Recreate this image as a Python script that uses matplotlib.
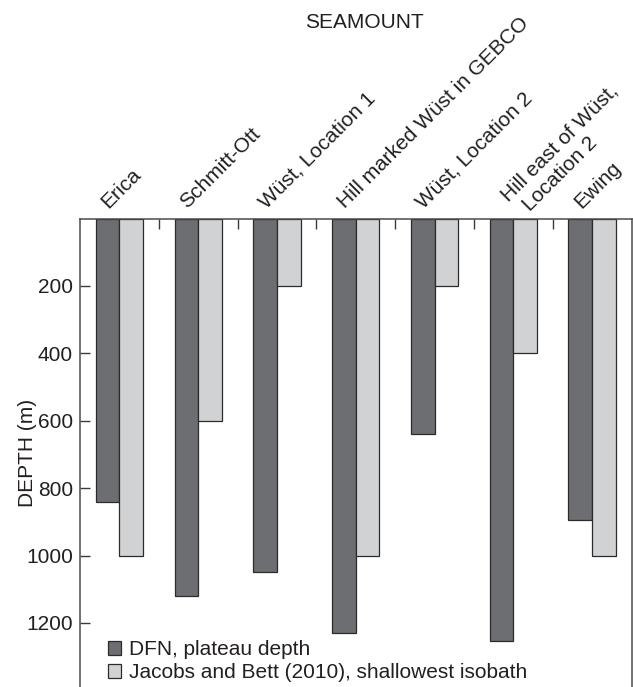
import matplotlib
matplotlib.use('Agg')
import matplotlib.pyplot as plt
from matplotlib.transforms import ScaledTranslation
import numpy as np

# dados
seamounts = ['Erica', 'Schmitt-Ott', 'Wüst, Location 1', 'Hill marked Wüst in GEBCO',
             'Wüst, Location 2', 'Hill east of Wüst,\nLocation 2', 'Ewing']
dfn_depth = [840, 1120, 1050, 1230, 640, 1255, 895]
jacobs_depth = [1000, 600, 200, 1000, 200, 400, 1000]
depth_ticks = [200, 400, 600, 800, 1000, 1200]

plt.rcParams['font.family'] = ['Liberation Sans', 'DejaVu Sans']
plt.rcParams['font.size'] = 15
txt = '#231f20'
dark = '#6d6e72'
light = '#d1d2d4'
edge = '#2b2b2b'

fig = plt.figure(figsize=(6.33, 6.87), dpi=100)
ax = fig.add_axes([80 / 633, 0, 551.5 / 633, 1 - 218.5 / 687])

x = np.arange(len(seamounts)) + 0.5
w = 0.3
ax.bar(x - w / 2, dfn_depth, w, color=dark, edgecolor=edge, linewidth=0.9,
       label='DFN, plateau depth')
ax.bar(x + w / 2, jacobs_depth, w, color=light, edgecolor=edge, linewidth=0.9,
       label='Jacobs and Bett (2010), shallowest isobath')

ax.set_xlim(0, len(seamounts))
ax.set_ylim(1390, 0)

# eixo y
ax.set_yticks(depth_ticks)
ax.tick_params(axis='y', direction='in', length=7.2, width=1, color='#3a3a3a',
               pad=5, labelcolor=txt, labelsize=15, right=False)
ax.set_ylabel('DEPTH (m)', color=txt, fontsize=15)
ax.yaxis.set_label_coords(-0.078, 0.5)

# eixo x: ticks entre os grupos no topo
ax.set_xticks(np.arange(1, len(seamounts)))
ax.set_xticklabels([])
ax.tick_params(axis='x', direction='in', length=7.2, width=1, color='#3a3a3a',
               top=True, bottom=False, labeltop=False, labelbottom=False)

# nomes inclinados; nomes com duas linhas sao escritos linha a linha
for xi, name in zip(x, seamounts):
    lines = name.split('\n')
    if len(lines) == 1:
        starts = [(-11, 9.5)]
    else:
        starts = [(-5.4, 16.5), (16.6, 6.5)]
    for line, (dx, dy) in zip(lines, starts):
        tr = ax.get_xaxis_transform() + ScaledTranslation(dx / 100, dy / 100, fig.dpi_scale_trans)
        ax.text(xi, 1, line, transform=tr, rotation=45, rotation_mode='anchor',
                ha='left', va='baseline', color=txt, fontsize=15)

for side in ['left', 'top', 'right']:
    ax.spines[side].set_color('#4a4a4a')
    ax.spines[side].set_linewidth(1.1)
ax.spines['bottom'].set_visible(False)

fig.text(364 / 633, 1 - 28 / 687, 'SEAMOUNT', ha='center', va='baseline',
         color=txt, fontsize=15)

ax.legend(loc='upper left', bbox_to_anchor=(27.5 / 551.5, 1 - (640 - 218.5) / 468.5),
          frameon=False, borderpad=0, borderaxespad=0, handlelength=0.67,
          handleheight=0.65, handletextpad=0.35, labelspacing=0.2,
          fontsize=15, labelcolor=txt)

fig.savefig('out.png', dpi=100)
